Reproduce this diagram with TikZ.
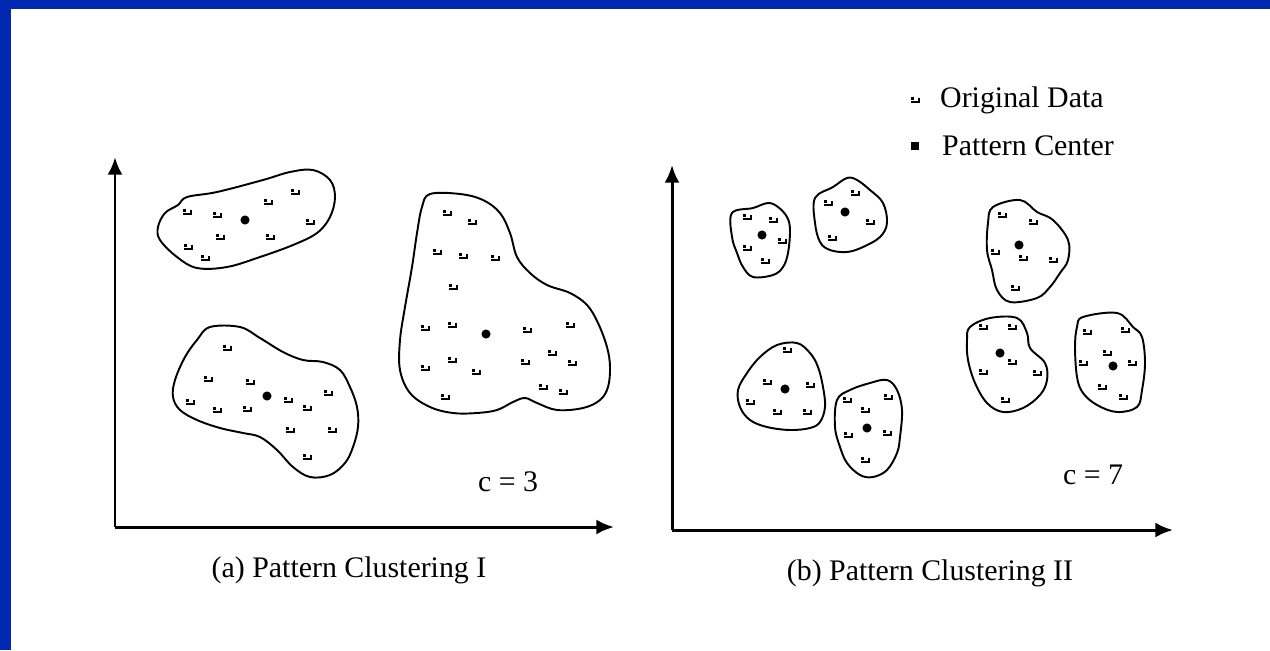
\documentclass[tikz,border=0pt]{standalone}
\usepackage{fontspec}
\setmainfont{Liberation Serif}
\usetikzlibrary{arrows.meta}
\definecolor{slideblue}{RGB}{0,41,178}
\tikzset{
  axis/.style={line width=1.7pt, -{Latex[length=10pt,width=8.5pt]}},
  hull/.style={line width=1.1pt, line join=round},
  ctr/.style={circle, fill=black, inner sep=0pt, minimum size=5.2pt},
  datum/.pic={
    \draw[line width=1.2pt] (-4,2) -- (4,2) -- (4,-2.5);
    \fill (-4,-3.5) rectangle (-1,-0.5);
  }
}
\begin{document}
\begin{tikzpicture}[x=0.02cm, y=-0.02cm, every node/.style={font=\fontsize{17}{20}\selectfont}]
        \useasboundingbox (0,0) rectangle (1270,650);
        % Slide frame
            \fill[slideblue] (0,0) rectangle (1270,650);
            \fill[white] (11,9) rectangle (1270,650);
        % Axes
            \coordinate (oa) at (115,527);
            \coordinate (ya) at (115,157);
            \coordinate (xa) at (614,527);
            \coordinate (ob) at (672,530);
            \coordinate (yb) at (672,165);
            \coordinate (xb) at (1173,530);
            \draw[axis] (oa) -- (ya);
            \draw[axis] (oa) -- (xa);
            \draw[axis] (ob) -- (yb);
            \draw[axis] (ob) -- (xb);
        % (a) three clusters
            \draw[hull] plot[smooth cycle, tension=0.6] coordinates {(187,197) (217,192) (263,180) (290,172) (313,170) (330,180) (335,197) (330,217) (317,233) (293,245) (260,257) (227,267) (197,268) (177,257) (160,240) (158,227) (165,213) (178,205)};
            \draw[hull] plot[smooth cycle, tension=0.6] coordinates {(430,194) (460,194) (483,200) (500,213) (510,233) (517,257) (530,273) (547,285) (570,293) (587,305) (598,323) (607,347) (610,367) (608,387) (600,400) (583,408) (557,410) (537,403) (525,398) (513,402) (497,410) (477,413) (453,413) (430,407) (410,393) (400,370) (400,340) (405,307) (412,267) (417,233) (422,207)};
            \draw[hull] plot[smooth cycle, tension=0.6] coordinates {(210,327) (240,327) (260,338) (283,352) (303,360) (323,362) (340,370) (350,387) (357,407) (358,427) (353,447) (345,463) (330,475) (310,477) (293,467) (277,450) (260,437) (243,433) (220,428) (197,420) (180,410) (173,397) (175,380) (185,357) (197,340)};
            \node[ctr] (ca1) at (245,220) {};
            \node[ctr] (ca2) at (486,334) {};
            \node[ctr] (ca3) at (267,396) {};
            \pic at (295,192) {datum}; \pic at (268,202) {datum}; \pic at (217,215) {datum}; \pic at (187,212) {datum}; \pic at (310,222) {datum};
            \pic at (220,237) {datum}; \pic at (270,237) {datum}; \pic at (188,247) {datum}; \pic at (205,258) {datum};
            \pic at (447,213) {datum}; \pic at (472,222) {datum}; \pic at (437,252) {datum}; \pic at (463,256) {datum}; \pic at (495,258) {datum};
            \pic at (453,287) {datum}; \pic at (425,328) {datum}; \pic at (452,325) {datum}; \pic at (527,330) {datum}; \pic at (570,325) {datum};
            \pic at (552,353) {datum}; \pic at (525,362) {datum}; \pic at (572,363) {datum}; \pic at (425,368) {datum}; \pic at (452,360) {datum};
            \pic at (476,372) {datum}; \pic at (543,387) {datum}; \pic at (563,392) {datum}; \pic at (445,397) {datum};
            \pic at (227,348) {datum}; \pic at (208,379) {datum}; \pic at (250,382) {datum}; \pic at (288,400) {datum}; \pic at (328,393) {datum};
            \pic at (190,402) {datum}; \pic at (217,410) {datum}; \pic at (247,409) {datum}; \pic at (307,408) {datum}; \pic at (290,430) {datum};
            \pic at (332,430) {datum}; \pic at (307,457) {datum};
            \node (ka) at (508,482) {c = 3};
            \node (capa) at (349,570) {(a) Pattern Clustering I};
        % (b) seven clusters
            \draw[hull] plot[smooth cycle, tension=0.6] coordinates {(732,213) (753,208) (768,203) (778,207) (787,217) (790,230) (788,253) (783,267) (773,275) (753,277) (743,267) (737,253) (732,237)};
            \draw[hull] plot[smooth cycle, tension=0.6] coordinates {(815,198) (833,187) (847,178) (857,180) (870,190) (883,203) (887,223) (880,237) (863,247) (847,252) (830,250) (820,242) (815,223)};
            \draw[hull] plot[smooth cycle, tension=0.6] coordinates {(993,207) (1020,200) (1037,212) (1053,220) (1068,240) (1068,260) (1060,273) (1050,287) (1037,298) (1010,302) (997,290) (992,270) (987,250) (988,223)};
            \draw[hull] plot[smooth cycle, tension=0.6] coordinates {(970,327) (990,318) (1017,318) (1027,333) (1030,348) (1045,363) (1047,380) (1040,395) (1023,408) (1003,412) (987,403) (975,383) (968,360) (967,340)};
            \draw[hull] plot[smooth cycle, tension=0.6] coordinates {(1083,317) (1117,313) (1133,327) (1142,337) (1145,363) (1142,390) (1137,407) (1117,412) (1097,405) (1083,393) (1077,377) (1075,347) (1077,327)};
            \draw[hull] plot[smooth cycle, tension=0.6] coordinates {(777,345) (797,343) (810,353) (818,367) (823,387) (825,407) (820,422) (810,428) (790,430) (767,427) (750,420) (740,407) (738,390) (747,373) (760,357)};
            \draw[hull] plot[smooth cycle, tension=0.6] coordinates {(837,400) (850,390) (870,383) (887,380) (897,390) (902,410) (900,437) (897,453) (887,470) (873,477) (860,475) (847,463) (840,447) (835,427)};
            \node[ctr] (cb1) at (762,235) {};
            \node[ctr] (cb2) at (845,212) {};
            \node[ctr] (cb3) at (1019,245) {};
            \node[ctr] (cb4) at (1000,353) {};
            \node[ctr] (cb5) at (1113,366) {};
            \node[ctr] (cb6) at (785,389) {};
            \node[ctr] (cb7) at (867,428) {};
            \pic at (747,217) {datum}; \pic at (773,220) {datum}; \pic at (782,241) {datum}; \pic at (747,248) {datum}; \pic at (765,261) {datum};
            \pic at (855,193) {datum}; \pic at (828,203) {datum}; \pic at (870,222) {datum}; \pic at (832,238) {datum};
            \pic at (1002,215) {datum}; \pic at (1033,222) {datum}; \pic at (995,252) {datum}; \pic at (1023,258) {datum}; \pic at (1053,260) {datum}; \pic at (1015,288) {datum};
            \pic at (983,327) {datum}; \pic at (1012,327) {datum}; \pic at (1012,362) {datum}; \pic at (983,372) {datum}; \pic at (1037,373) {datum}; \pic at (1005,400) {datum};
            \pic at (1087,332) {datum}; \pic at (1125,330) {datum}; \pic at (1107,353) {datum}; \pic at (1083,363) {datum}; \pic at (1132,363) {datum};
            \pic at (1102,387) {datum}; \pic at (1123,397) {datum};
            \pic at (787,350) {datum}; \pic at (767,382) {datum}; \pic at (810,385) {datum}; \pic at (750,402) {datum}; \pic at (777,412) {datum}; \pic at (807,412) {datum};
            \pic at (847,400) {datum}; \pic at (888,397) {datum}; \pic at (865,410) {datum}; \pic at (848,435) {datum}; \pic at (887,433) {datum}; \pic at (865,460) {datum};
            \node (kb) at (1093,475) {c = 7};
            \node (capb) at (930,573) {(b) Pattern Clustering II};
        % Legend
            \pic at (915,100) {datum};
            \node[anchor=west] (lgd) at (934,100) {Original Data};
            \node[fill=black, inner sep=0pt, minimum size=4.5pt] (lgc) at (915,146) {};
            \node[anchor=west] (lgp) at (936,146) {Pattern Center};
        \end{tikzpicture}
\end{document}
